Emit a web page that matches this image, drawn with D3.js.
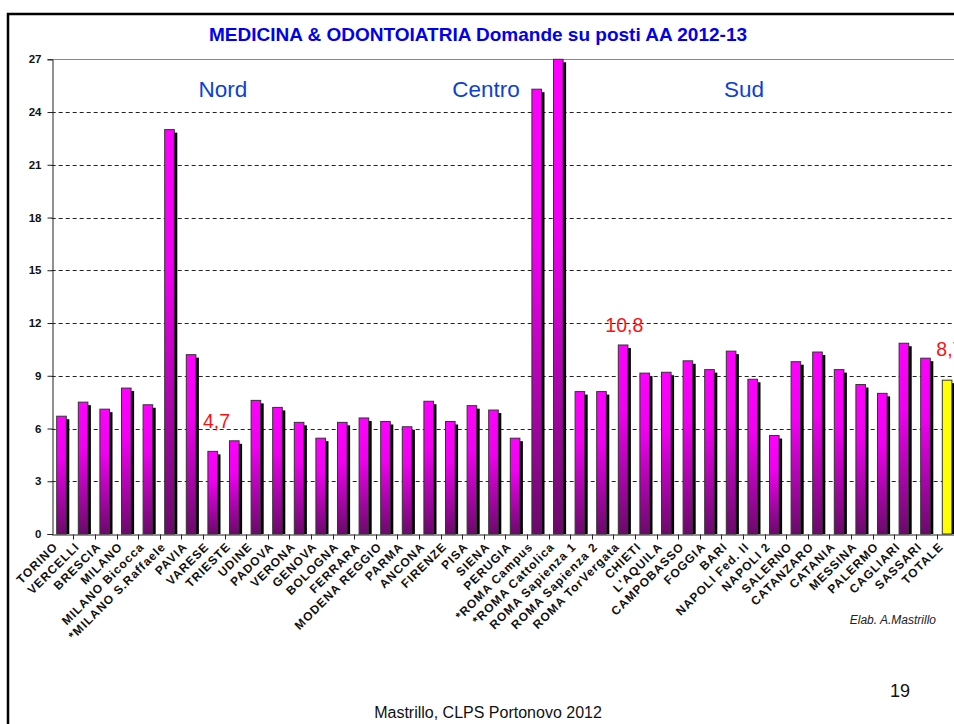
<!DOCTYPE html>
<html>
<head>
<meta charset="utf-8">
<script src="https://cdn.jsdelivr.net/npm/d3@7"></script>
<style>
  body { margin: 0; background: #fff; }
  svg text { font-family: "Liberation Sans", Arial, sans-serif; }
</style>
</head>
<body>
<div id="chart"></div>
<script>
// data
const categories = ['TORINO', 'VERCELLI', 'BRESCIA', 'MILANO', 'MILANO Bicocca', '*MILANO S.Raffaele',
  'PAVIA', 'VARESE', 'TRIESTE', 'UDINE', 'PADOVA', 'VERONA', 'GENOVA', 'BOLOGNA', 'FERRARA',
  'MODENA REGGIO', 'PARMA', 'ANCONA', 'FIRENZE', 'PISA', 'SIENA', 'PERUGIA', '*ROMA Campus',
  '*ROMA Cattolica', 'ROMA Sapienza 1', 'ROMA Sapienza 2', 'ROMA TorVergata', 'CHIETI', "L'AQUILA",
  'CAMPOBASSO', 'FOGGIA', 'BARI', 'NAPOLI Fed. II', 'NAPOLI 2', 'SALERNO', 'CATANZARO', 'CATANIA',
  'MESSINA', 'PALERMO', 'CAGLIARI', 'SASSARI', 'TOTALE'];
const values = [6.7, 7.5, 7.1, 8.3, 7.35, 23.0,
  10.2, 4.7, 5.3, 7.6, 7.2, 6.35, 5.45, 6.35, 6.6,
  6.4, 6.1, 7.55, 6.4, 7.3, 7.05, 5.45, 25.3,
  27.0, 8.1, 8.1, 10.75, 9.15, 9.2,
  9.85, 9.35, 10.4, 8.8, 5.6, 9.8, 10.35, 9.35,
  8.5, 8.0, 10.85, 10.0, 8.75];
const yTicks = [0, 3, 6, 9, 12, 15, 18, 21, 24, 27];
const regions = ['Nord', 'Centro', 'Sud'];
const callouts = [
  { cat: 'VARESE', text: '4,7' },
  { cat: 'ROMA TorVergata', text: '10,8' },
  { cat: 'TOTALE', text: '8,7' }
];
const titleText = 'MEDICINA & ODONTOIATRIA Domande su posti AA 2012-13';

const W = 954, H = 724;
const LEFT = 51.7, TOP = 59.3, BOTTOM = 534, BAND = 21.6;

var svg = d3.select('#chart').append('svg')
  .attr('width', W)
  .attr('height', H);

var defs = svg.append('defs');
var grad = defs.append('linearGradient')
  .attr('id', 'barGrad')
  .attr('x1', 0).attr('y1', 0).attr('x2', 0).attr('y2', 1);
grad.append('stop').attr('offset', '0%').attr('stop-color', '#ff00ff');
grad.append('stop').attr('offset', '35%').attr('stop-color', '#f000f0');
grad.append('stop').attr('offset', '100%').attr('stop-color', '#6a0a6a');

// slide frame
svg.append('path')
  .attr('d', 'M8,' + H + ' V14 H' + W)
  .attr('fill', 'none')
  .attr('stroke', '#000')
  .attr('stroke-width', 2.5);

var x = d3.scaleBand()
  .domain(categories)
  .range([LEFT, LEFT + BAND * categories.length])
  .padding(0);
var y = d3.scaleLinear().domain([0, 27]).range([BOTTOM, TOP]);

// gridlines
svg.append('g')
  .selectAll('line')
  .data(yTicks.filter(function (d) { return d > 0 && d < 27; }))
  .enter().append('line')
  .attr('x1', LEFT).attr('x2', W)
  .attr('y1', function (d) { return Math.round(y(d)) + 0.5; })
  .attr('y2', function (d) { return Math.round(y(d)) + 0.5; })
  .attr('stroke', '#222')
  .attr('stroke-dasharray', '4,3');

// plot top border
svg.append('line')
  .attr('x1', LEFT).attr('x2', W)
  .attr('y1', Math.round(y(27)) + 0.5).attr('y2', Math.round(y(27)) + 0.5)
  .attr('stroke', '#888');

// y axis
var yAxis = d3.axisLeft(y).tickValues(yTicks).tickSize(5).tickPadding(6);
var gy = svg.append('g')
  .attr('transform', 'translate(' + (Math.round(LEFT) + 0.5) + ',0)')
  .call(yAxis);
gy.select('.domain').attr('stroke', '#222');
gy.selectAll('line').attr('stroke', '#222');
gy.selectAll('text')
  .attr('font-size', 11.5)
  .attr('font-weight', 'bold')
  .attr('fill', '#111');

// bars: shadow then bar
var BW = 9.6, BOFF = 5;
var barsG = svg.append('g');
barsG.selectAll('.shadow')
  .data(values)
  .enter().append('rect')
  .attr('class', 'shadow')
  .attr('x', function (d, i) { return x(categories[i]) + BOFF + 3; })
  .attr('y', function (d) { return y(d) + 3; })
  .attr('width', BW)
  .attr('height', function (d) { return BOTTOM - y(d) - 3; })
  .attr('fill', '#000');
barsG.selectAll('.bar')
  .data(values)
  .enter().append('rect')
  .attr('class', 'bar')
  .attr('x', function (d, i) { return x(categories[i]) + BOFF; })
  .attr('y', function (d) { return y(d); })
  .attr('width', BW)
  .attr('height', function (d) { return BOTTOM - y(d); })
  .attr('fill', function (d, i) { return categories[i] === 'TOTALE' ? '#ffff00' : 'url(#barGrad)'; })
  .attr('stroke', '#333')
  .attr('stroke-width', 1);

// x axis
var xAxis = d3.axisBottom(x).tickSize(0).tickPadding(0);
var gx = svg.append('g')
  .attr('transform', 'translate(0,' + (BOTTOM + 0.5) + ')')
  .call(xAxis);
gx.select('.domain').attr('stroke', '#222');
gx.selectAll('.tick text')
  .attr('font-size', 12)
  .attr('font-weight', 'bold')
  .attr('letter-spacing', 1)
  .attr('fill', '#111')
  .attr('text-anchor', 'end')
  .attr('dy', 0)
  .attr('y', 0)
  .attr('transform', 'translate(-4,13) rotate(-45)');
gx.selectAll('.tick line').remove();
gx.selectAll('.sep')
  .data(categories)
  .enter().append('line')
  .attr('class', 'sep')
  .attr('x1', function (d) { return Math.round(x(d) + BAND) + 0.5; })
  .attr('x2', function (d) { return Math.round(x(d) + BAND) + 0.5; })
  .attr('y1', 0).attr('y2', 5)
  .attr('stroke', '#222');

// region labels
var regionX = [223, 486, 744];
svg.selectAll('.region')
  .data(regions)
  .enter().append('text')
  .attr('class', 'region')
  .attr('x', function (d, i) { return regionX[i]; })
  .attr('y', 97)
  .attr('text-anchor', 'middle')
  .attr('font-size', 22.5)
  .attr('fill', '#0d3fd6')
  .text(function (d) { return d; });

// red callouts
var calloutOffset = { '4,7': [0, -23], '10,8': [-8, -13], '8,7': [-1, -24] };
svg.selectAll('.callout')
  .data(callouts)
  .enter().append('text')
  .attr('class', 'callout')
  .attr('x', function (d) { return x(d.cat) + calloutOffset[d.text][0]; })
  .attr('y', function (d) { return y(values[categories.indexOf(d.cat)]) + calloutOffset[d.text][1]; })
  .attr('font-size', 19.5)
  .attr('fill', '#ff1010')
  .text(function (d) { return d.text; });

// title
svg.append('text')
  .attr('x', 478).attr('y', 41)
  .attr('text-anchor', 'middle')
  .attr('font-size', 19)
  .attr('font-weight', 'bold')
  .attr('fill', '#0000ee')
  .text(titleText);

svg.append('text')
  .attr('x', 936).attr('y', 624)
  .attr('text-anchor', 'end')
  .attr('font-size', 12)
  .attr('font-style', 'italic')
  .attr('fill', '#222')
  .text('Elab. A.Mastrillo');

svg.append('text')
  .attr('x', 900).attr('y', 697)
  .attr('text-anchor', 'middle')
  .attr('font-size', 18)
  .attr('fill', '#111')
  .text('19');

svg.append('text')
  .attr('x', 488).attr('y', 718)
  .attr('text-anchor', 'middle')
  .attr('font-size', 16)
  .attr('fill', '#111')
  .text('Mastrillo, CLPS Portonovo 2012');
</script>
</body>
</html>
